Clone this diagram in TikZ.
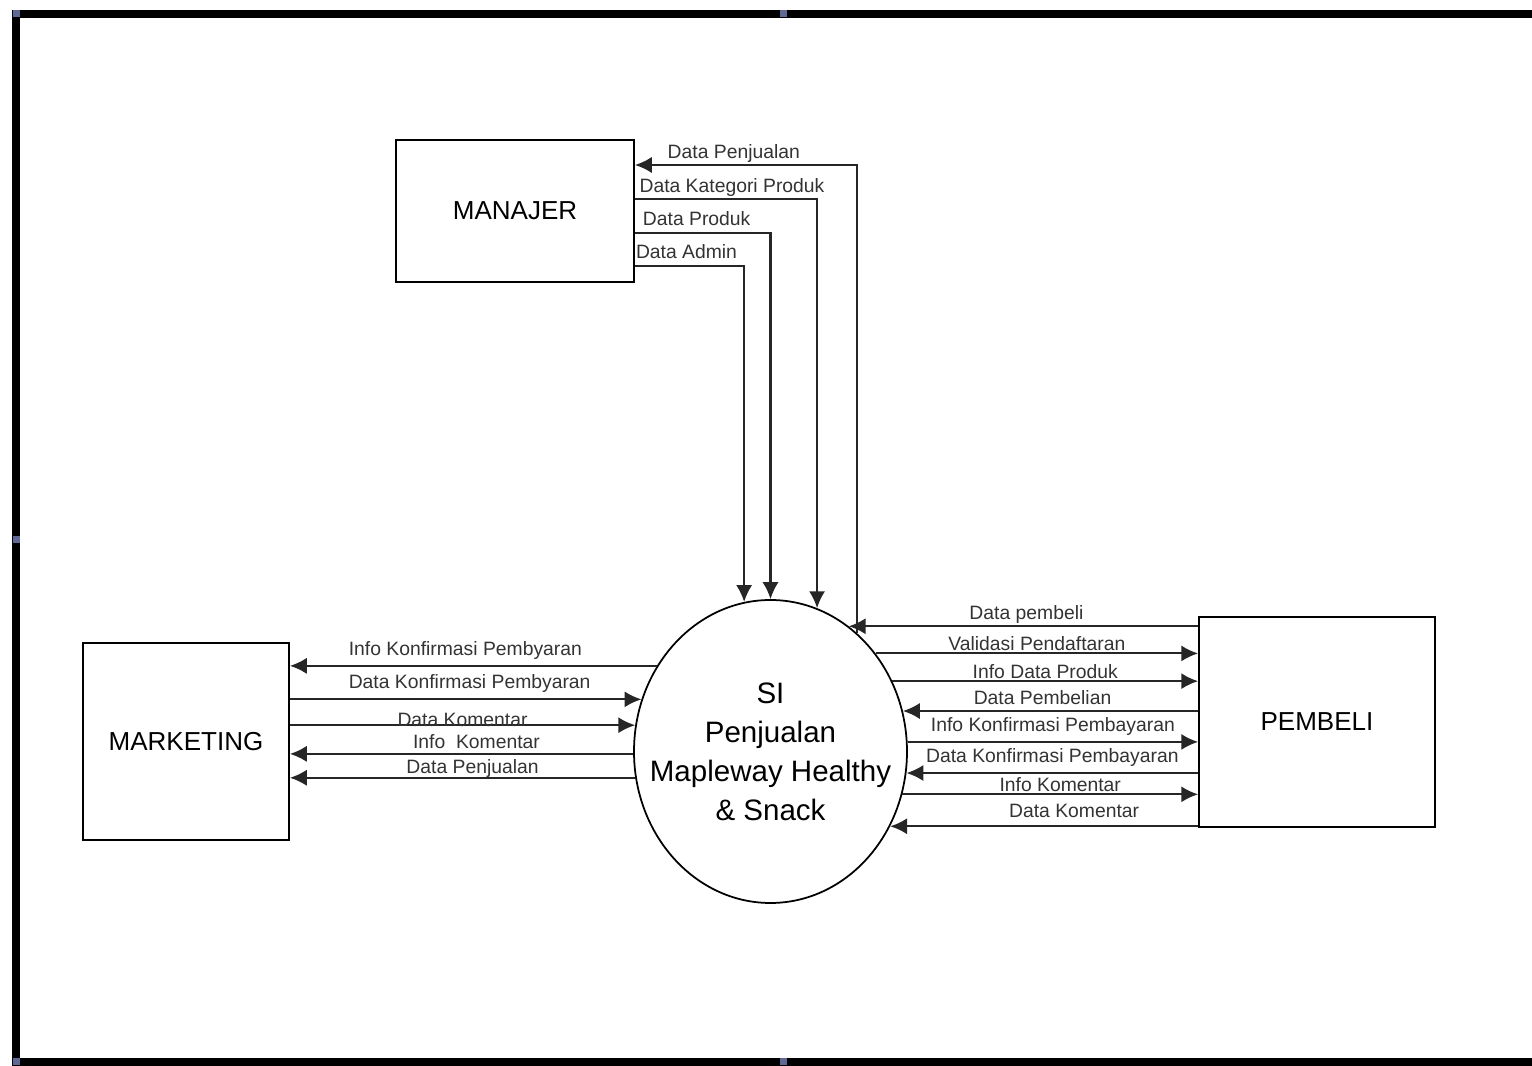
\documentclass[tikz,border=0pt]{standalone}
\usepackage{fontspec}
\setmainfont{Liberation Sans}
\usetikzlibrary{arrows.meta,shapes.geometric}
\definecolor{handle}{RGB}{95,105,150}

\begin{document}
\begin{tikzpicture}[
	flow/.style={draw=black!85, line width=0.6pt, -{Latex[length=4.8pt,width=4.6pt]}},
	lbl/.style={font=\fontsize{5.5}{6.6}\selectfont, text=black!80, inner sep=0.5pt},
	entity/.style={draw, line width=0.5pt, font=\fontsize{7.4}{9}\selectfont}]
		\useasboundingbox (0,0) rectangle (15.32,-10.66);
		\draw[line width=0.08cm] (15.32,-0.14) -| (0.165,-10.62) -- (15.32,-10.62);
		\foreach \p in {(0.165,-0.14),(7.83,-0.14),(0.165,-5.4),(0.165,-10.62),(7.83,-10.62)}
			\fill[handle] \p +(-0.035,-0.035) rectangle +(0.035,0.035);

		\node (manajer)[entity, minimum width=2.38cm, minimum height=1.42cm] at (5.15,-2.11) {MANAJER};
		\node (marketing)[entity, minimum width=2.06cm, minimum height=1.97cm] at (1.86,-7.415) {MARKETING};
		\node (pembeli)[entity, minimum width=2.36cm, minimum height=2.10cm] at (13.17,-7.22) {PEMBELI};
		\node (sis)[draw, ellipse, line width=0.5pt, minimum width=2.73cm, minimum height=3.03cm] at (7.705,-7.515) {};
		\node (sistext)[align=center, font=\fontsize{8.4}{11.1}\selectfont] at (sis.center) {SI\\Penjualan\\Mapleway Healthy\\\& Snack};

		\draw[flow] (sis.54) |- ([yshift=4.6mm]manajer.east) node[pos=0.75, above, lbl, xshift=-1.2mm]{Data Penjualan};
		\draw[flow] ([yshift=1.2mm]manajer.east) -| (sis.72.1) node[pos=0.25, above, lbl, xshift=0.6mm]{Data Kategori Produk};
		\draw[flow] ([yshift=-2.2mm]manajer.east) -| (sis.90) node[pos=0.25, above, lbl, xshift=-0.6mm, yshift=0.4mm]{Data Produk};
		\draw[flow] ([yshift=-5.5mm]manajer.east) -| (sis.100.7) node[pos=0.25, above, lbl, xshift=-0.3mm, yshift=0.4mm]{Data Admin};

		\draw[flow] (sis.143.5) -- (sis.143.5 -| marketing.east) node[midway, above, lbl, xshift=-0.8mm, yshift=0.4mm]{Info Konfirmasi Pembyaran};
		\draw[flow] (marketing.east |- sis.158.8) -- (sis.158.8) node[midway, above, lbl, xshift=0.4mm, yshift=0.4mm]{Data Konfirmasi Pembyaran};
		\draw[flow] (marketing.east |- sis.169) -- (sis.169) node[midway, above, lbl, yshift=-0.4mm]{Data Komentar};
		\draw[flow] (sis.181.3) -- (sis.181.3 -| marketing.east) node[midway, above, lbl, xshift=1.5mm, yshift=0.2mm]{Info\ \ Komentar};
		\draw[flow] (sis.191.4) -- (sis.191.4 -| marketing.east) node[midway, above, lbl, xshift=1mm, yshift=-0.3mm]{Data Penjualan};

		\draw[flow] (pembeli.west |- sis.58) -- (sis.58) node[midway, above, lbl, xshift=0.3mm]{Data pembeli};
		\draw[flow] (sis.43.3) -- (sis.43.3 -| pembeli.west) node[midway, above, lbl]{Validasi Pendaftaran};
		\draw[flow] (sis.30) -- (sis.30 -| pembeli.west) node[midway, above, lbl]{Info Data Produk};
		\draw[flow] (pembeli.west |- sis.17.3) -- (sis.17.3) node[midway, above, lbl, xshift=-0.8mm, yshift=0.4mm]{Data Pembelian};
		\draw[flow] (sis.4.6) -- (sis.4.6 -| pembeli.west) node[midway, above, lbl, yshift=0.4mm]{Info Konfirmasi Pembayaran};
		\draw[flow] (pembeli.west |- sis.-9.3) -- (sis.-9.3) node[midway, above, lbl, yshift=0.4mm]{Data Konfirmasi Pembayaran};
		\draw[flow] (sis.-18.6) -- (sis.-18.6 -| pembeli.west) node[midway, above, lbl, xshift=1mm]{Info Komentar};
		\draw[flow] (pembeli.west |- sis.-32.3) -- (sis.-32.3) node[midway, above, lbl, xshift=3mm, yshift=0.6mm]{Data Komentar};
	\end{tikzpicture}
\end{document}
